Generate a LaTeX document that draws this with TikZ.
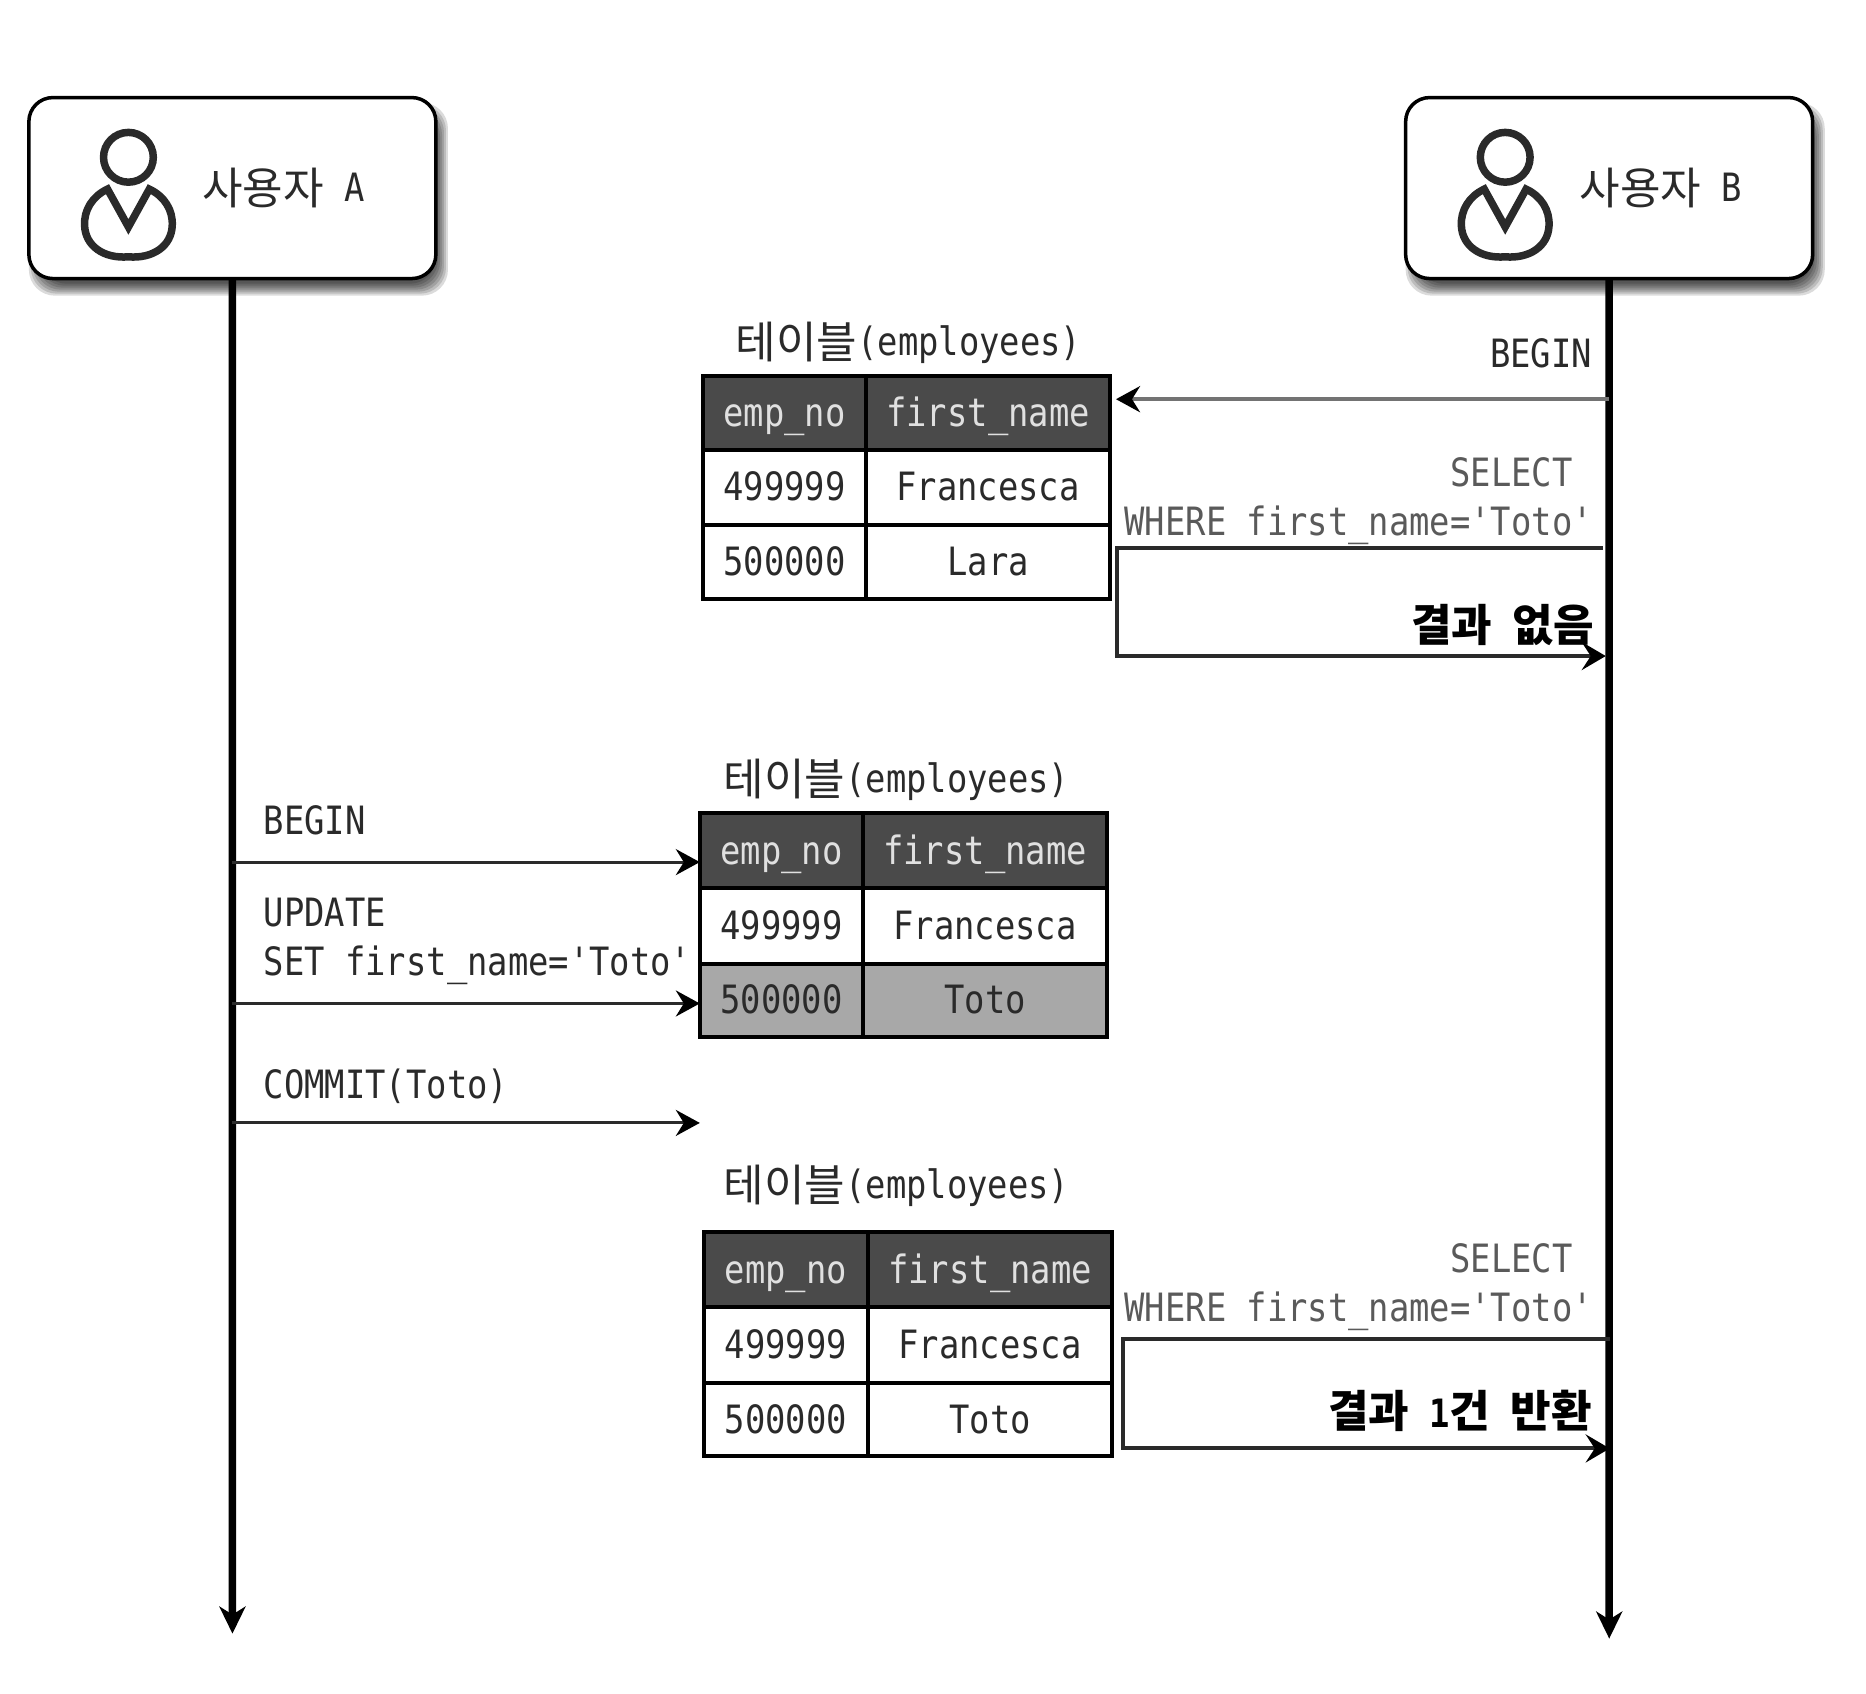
\documentclass[tikz,border=0pt]{standalone}
\usepackage{fontspec}
\usetikzlibrary{arrows.meta}
\newfontfamily\mono[FakeStretch=0.867]{DejaVu Sans Mono}
\newfontfamily\kr[Scale=1.13]{Noto Sans CJK KR}
\definecolor{ink}{HTML}{2A2A2A}
\definecolor{soft}{HTML}{5A5A5A}
\definecolor{headfill}{HTML}{4A4A4A}
\definecolor{hilite}{HTML}{A8A8A8}
\newcommand\fs{\fontsize{39}{49}\selectfont}
\newcommand\lowkr[1]{\raisebox{-3pt}[0pt][0pt]{\kr #1}}
\newcommand\mycell[7]{%
  \pgfmathsetmacro\cw{(#4-#2)*0.9955}\pgfmathsetmacro\ch{(#5-#3)*0.9955}%
  \node[cell,#6,minimum width=\cw pt,minimum height=\ch pt] (#1) at ({(#2+#4)/2},{(#3+#5)/2}) {#7};}
\newcommand\emptable[9]{% name x0 x1 x2 y0 y1 y2 y3 {last-row options}
  \mycell{#1ha}{#2}{#5}{#3}{#6}{headcell}{emp\_no}
  \mycell{#1hb}{#3}{#5}{#4}{#6}{headcell}{first\_name}
  \mycell{#1aa}{#2}{#6}{#3}{#7}{}{499999}
  \mycell{#1ab}{#3}{#6}{#4}{#7}{}{Francesca}
  \mycell{#1ba}{#2}{#7}{#3}{#8}{#9}{500000}}
\tikzset{
  cell/.style={draw=black,line width=4pt,inner sep=0pt,outer sep=0pt,text=ink,
    font=\mono\fs,text height=29pt,text depth=2pt},
  headcell/.style={fill=headfill,text=white!88!black},
  hicell/.style={fill=hilite},
  actor/.style={draw=black,line width=3.5pt,fill=white,rounded corners=24pt,inner sep=0pt,outer sep=0pt,
    minimum width=407pt,minimum height=181pt},
  lbl/.style={inner sep=0pt,outer sep=0pt,text=ink,font=\mono\fs,align=left,text height=29pt,text depth=2pt},
  mlbl/.style={inner sep=0pt,outer sep=0pt,text=ink,font=\mono\fs,align=left},
  rlbl/.style={inner sep=0pt,outer sep=0pt,text=soft,font=\mono\fs,align=right},
  lifeline/.style={line width=7.5pt,draw=black,-{Stealth[length=27pt,width=26pt,inset=8pt]}},
  msg/.style={line width=3pt,draw=ink,-{Stealth[length=24pt,width=26pt,inset=8pt,color=black]}},
  reply/.style={line width=4pt,draw=ink,-{Stealth[length=24pt,width=28pt,inset=9pt,color=black]}},
  pics/person/.style={code={
    \draw[line width=7.5pt,draw=ink] (0,1) circle (25);
    \draw[line width=7.5pt,draw=ink,line join=miter]
      (0,71) -- (-21,33) .. controls (-36,40) and (-45,54) .. (-44,70)
      .. controls (-43,90) and (-25,103) .. (0,101)
      .. controls (25,103) and (43,90) .. (44,70)
      .. controls (45,54) and (36,40) .. (21,33) -- cycle;
  }}
}
\begin{document}
\begin{tikzpicture}[x=0.9955pt,y=-0.9955pt]
\useasboundingbox (0pt,0pt) rectangle (1866pt,-1694pt);
\fill[white] (0pt,0pt) rectangle (1866pt,-1694pt);
% soft shadows of the two actor boxes
\foreach \ox in {29,1412}{
  \foreach \g in {-6,-4,-2,0,2,4,6}{
    \fill[black,opacity=.14,rounded corners=26pt]
      ({\ox+6-\g},{98+11-\g}) rectangle ({\ox+409+6+\g},{280+11+\g});
  }
}
\node[actor,anchor=north west] (boxA) at (29,98) {};
\node[actor,anchor=north west] (boxB) at (1412,98) {};
\pic at (129,157) {person};
\pic at (1512,157) {person};
\node[lbl,anchor=west] (nameA) at (203,189) {\lowkr{사용자}\mono~A};
\node[lbl,anchor=west] (nameB) at (1587,189) {\lowkr{사용자}\mono~B};

% lifelines
\coordinate (endA) at (233.5,1641);
\coordinate (endB) at (1616.5,1646);
\draw[lifeline] (boxA.south) -- (endA);
\draw[lifeline] (boxB.south) -- (endB);

% tables
\emptable{p}{706}{870}{1115}{378}{452}{527}{602}{}
\mycell{pbb}{870}{527}{1115}{602}{}{Lara}
\emptable{q}{703}{867}{1112}{817}{892}{968}{1042}{hicell}
\mycell{qbb}{867}{968}{1112}{1042}{hicell}{Toto}
\emptable{r}{707}{872}{1117}{1238}{1313}{1389}{1463}{}
\mycell{rbb}{872}{1389}{1117}{1463}{}{Toto}

\node[lbl,anchor=west] (titleP) at (739,344) {\lowkr{테이블}(employees)};
\node[lbl,anchor=west] (titleQ) at (727,783) {\lowkr{테이블}(employees)};
\node[lbl,anchor=west] (titleR) at (727,1190) {\lowkr{테이블}(employees)};

% user B, first read
\coordinate (yBegin) at (0,401);
\coordinate (pTip) at ([xshift=6pt]phb.east);
\draw[msg,line width=4pt,draw=black!55] (boxB.south |- yBegin) -- (pTip |- yBegin);
\node[lbl,anchor=east] (lblBeginB) at (1599,356) {BEGIN};
\node[rlbl,anchor=north east] (lblSel1) at (1600,460) {SELECT\hphantom{x}\\WHERE first\_name='Toto'};
\coordinate (e1a) at (1610,550);
\coordinate (e1b) at (1122,550);
\coordinate (e1c) at (1122,659);
\coordinate (e1d) at (1613,659);
\draw[reply] (e1a) -- (e1b) -- (e1c) -- (e1d);
\node[lbl,anchor=east,text=black] (res1) at (1601,631) {\raisebox{0pt}[0pt][0pt]{\kr\bfseries 결과}\mono~\raisebox{0pt}[0pt][0pt]{\kr\bfseries 없음}};

% user A
\coordinate (yA1) at (0,866);
\coordinate (yA2) at (0,1008);
\coordinate (yA3) at (0,1128);
\draw[msg] (boxA.south |- yA1) -- (qha.west |- yA1);
\draw[msg] (boxA.south |- yA2) -- (qba.west |- yA2);
\draw[msg] (boxA.south |- yA3) -- (qba.west |- yA3);
\node[lbl,anchor=west] (lblBeginA) at (265,825) {BEGIN};
\node[mlbl,anchor=north west] (lblUpd) at (265,902) {UPDATE\\SET first\_name='Toto'};
\node[lbl,anchor=west] (lblCommit) at (265,1090) {COMMIT(Toto)};

% user B, second read
\node[rlbl,anchor=north east] (lblSel2) at (1600,1249) {SELECT\hphantom{x}\\WHERE first\_name='Toto'};
\coordinate (e2a) at (1617,1345);
\coordinate (e2b) at (1128,1345);
\coordinate (e2c) at (1128,1455);
\coordinate (e2d) at (1617,1455);
\draw[reply] (e2a) -- (e2b) -- (e2c) -- (e2d);
\node[lbl,anchor=east,text=black] (res2) at (1599,1420) {\raisebox{0pt}[0pt][0pt]{\kr\bfseries 결과}\mono~{\bfseries 1}\raisebox{0pt}[0pt][0pt]{\kr\bfseries 건}\mono~\raisebox{0pt}[0pt][0pt]{\kr\bfseries 반환}};
\end{tikzpicture}
\end{document}
